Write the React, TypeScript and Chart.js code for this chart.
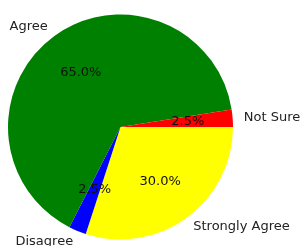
import React, { useEffect, useRef } from "react";
import { Chart, registerables } from "chart.js";

Chart.register(...registerables);

const categories = ["Strongly Agree", "Disagree", "Agree", "Not Sure"];
const values = [30.0, 2.5, 65.0, 2.5];
const colors = ["#ffff00", "#0000ff", "#008000", "#ff0000"];

const labelPlugin = {
  id: "pieLabels",
  afterDraw(chart: any) {
    const ctx = chart.ctx;
    const meta = chart.getDatasetMeta(0);
    const total = values.reduce((a, b) => a + b, 0);
    ctx.save();
    ctx.font = "13px 'DejaVu Sans'";
    ctx.textBaseline = "middle";
    meta.data.forEach((arc: any, i: number) => {
      const mid = (arc.startAngle + arc.endAngle) / 2;
      const r = arc.outerRadius;
      const cx = arc.x;
      const cy = arc.y;
      const lx = cx + 1.1 * r * Math.cos(mid);
      const ly = cy + 1.1 * r * Math.sin(mid);
      ctx.fillStyle = "#222222";
      ctx.textAlign = Math.cos(mid) > 0 ? "left" : "right";
      ctx.fillText(categories[i], lx, ly);
      const px = cx + 0.6 * r * Math.cos(mid);
      const py = cy + 0.6 * r * Math.sin(mid);
      ctx.fillStyle = "#111111";
      ctx.textAlign = "center";
      ctx.fillText(((values[i] / total) * 100).toFixed(1) + "%", px, py);
    });
    ctx.restore();
  },
};

export default function App() {
  const ref = useRef<HTMLCanvasElement>(null);
  useEffect(() => {
    if (!ref.current) return;
    const chart = new Chart(ref.current, {
      type: "pie",
      data: {
        labels: categories,
        datasets: [
          {
            data: values,
            backgroundColor: colors,
            borderWidth: 0,
          },
        ],
      },
      options: {
        animation: false,
        responsive: false,
        rotation: 90,
        layout: { padding: { left: 8, right: 68, top: 14.5, bottom: 6.5 } },
        plugins: { legend: { display: false }, tooltip: { enabled: false } },
      },
      plugins: [labelPlugin],
    });
    return () => chart.destroy();
  }, []);
  return (
    <div style={{ position: "fixed", left: 0, top: 0, width: 301, height: 246, background: "#fff" }}>
      <canvas ref={ref} width={301} height={246} style={{ display: "block", width: 301, height: 246 }} />
    </div>
  );
}
